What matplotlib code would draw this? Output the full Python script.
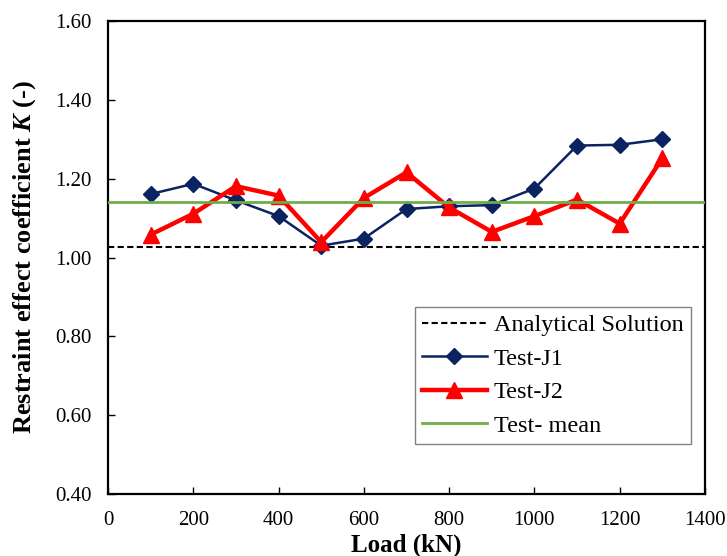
import numpy as np
import matplotlib
matplotlib.use('Agg')
import matplotlib.pyplot as plt

plt.rcParams['font.family'] = ['Liberation Serif', 'DejaVu Serif']
plt.rcParams['mathtext.fontset'] = 'custom'
plt.rcParams['mathtext.it'] = 'Liberation Serif:italic:bold'
plt.rcParams['mathtext.rm'] = 'Liberation Serif:bold'

load = [100, 200, 300, 400, 500, 600, 700, 800, 900, 1000, 1100, 1200, 1300]
test_j1 = [1.161, 1.187, 1.145, 1.105, 1.030, 1.048, 1.123, 1.130, 1.133, 1.175, 1.284, 1.286, 1.300]
test_j2 = [1.058, 1.111, 1.181, 1.157, 1.039, 1.151, 1.216, 1.127, 1.065, 1.105, 1.147, 1.086, 1.252]
analytical = 1.026
test_mean = 1.141

fig = plt.figure(figsize=(7.27, 5.56), dpi=100)
ax = fig.add_axes([0.1486, 0.1115, 0.8211, 0.8507])

ax.axhline(analytical, color='black', lw=1.5, ls=(0, (3, 1.6)), label='Analytical Solution', zorder=2)
ax.plot(load, test_j1, color='#0b2361', lw=1.8, marker='D', markersize=8,
        label='Test-J1', zorder=3)
ax.plot(load, test_j2, color='#ff0000', lw=3.2, marker='^', markersize=12,
        label='Test-J2', zorder=4)
ax.axhline(test_mean, color='#70ad47', lw=2, label='Test- mean', zorder=5)

ax.set_xlim(0, 1400)
ax.set_ylim(0.4, 1.6)
ax.set_xticks(np.arange(0, 1401, 200))
ax.set_yticks(np.arange(0.4, 1.61, 0.2))
ax.set_yticklabels(['%.2f' % v for v in np.arange(0.4, 1.61, 0.2)])
ax.tick_params(direction='in', length=5, width=1, labelsize=15, pad=12)

for s in ax.spines.values():
    s.set_linewidth(1.6)

ax.set_xlabel('Load (kN)', fontsize=18, fontweight='bold', labelpad=3)
ax.set_ylabel(r'Restraint effect coefficient $K$ (-)', fontsize=19, fontweight='bold', labelpad=12)

leg = ax.legend(loc='lower right', bbox_to_anchor=(0.9766, 0.1057), borderaxespad=0,
                fontsize=17.5, fancybox=False, edgecolor='#808080', framealpha=1,
                handlelength=2.65, handletextpad=0.3, labelspacing=0.47, borderpad=0.3)
leg.get_frame().set_linewidth(1.0)

fig.savefig('out.png', dpi=100)
